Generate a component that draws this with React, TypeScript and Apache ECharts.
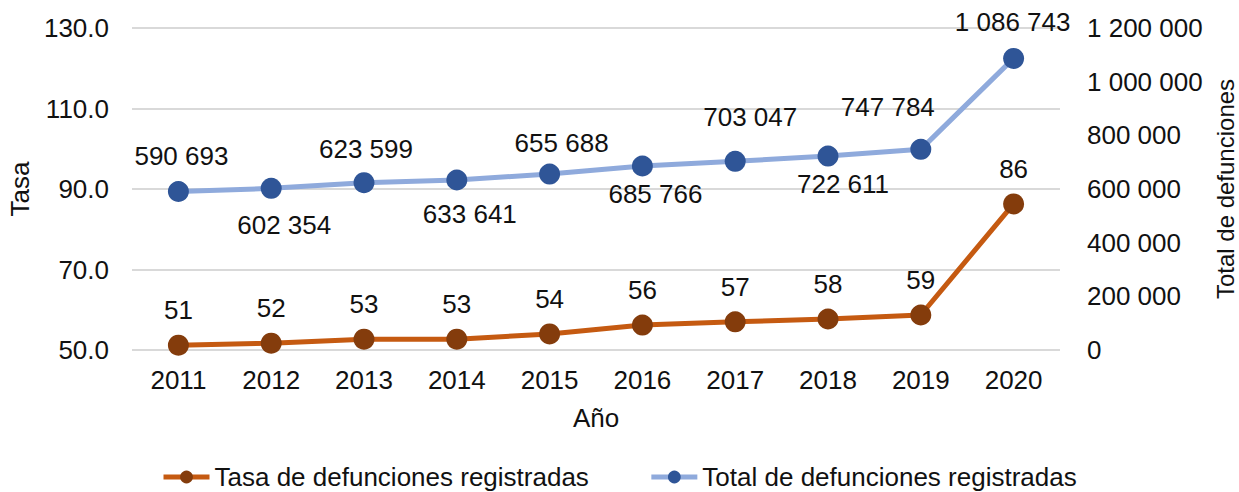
import React, { useEffect, useRef } from "react";
import * as echarts from "echarts";

const years = ["2011", "2012", "2013", "2014", "2015", "2016", "2017", "2018", "2019", "2020"];
const tasa = [51.2, 51.7, 52.7, 52.7, 54.0, 56.2, 57.0, 57.7, 58.7, 86.3];
const total = [590693, 602354, 623599, 633641, 655688, 685766, 703047, 722611, 747784, 1086743];

// label placement (layout only): offset of each total label's centre from its point
const totalLabelOffsets = [
  [3, -35], [13, 37], [2, -34], [13, 34], [12, -31],
  [13, 28], [15, -44], [15, 28], [-33, -42], [-1, -36],
];

const FONT = "Liberation Sans, Arial, sans-serif";
const TXT = "#111111";
const FS = 26;

const fmtThousands = (v: number) =>
  String(Math.round(v)).replace(/\B(?=(\d{3})+(?!\d))/g, " ");

export default function App() {
  const ref = useRef<HTMLDivElement>(null);
  useEffect(() => {
    if (!ref.current) return;
    const chart = echarts.init(ref.current, undefined, { renderer: "svg" });
    chart.setOption({
      animation: false,
      textStyle: { fontFamily: FONT, color: TXT },
      grid: { left: 132, right: 179, top: 28, bottom: 142, outerBoundsMode: "none", containLabel: false },
      legend: {
        left: 156,
        top: 459,
        itemWidth: 46,
        itemHeight: 16,
        itemGap: 60,
        lineStyle: { width: 5 },
        textStyle: { fontSize: FS, color: TXT, fontFamily: FONT },
        data: ["Tasa de defunciones registradas", "Total de defunciones registradas"],
      },
      xAxis: {
        type: "category",
        data: years,
        name: "Año",
        nameLocation: "middle",
        nameGap: 55,
        nameTextStyle: { fontSize: FS, color: TXT },
        axisLine: { show: false },
        axisTick: { show: false },
        axisLabel: { fontSize: FS, color: TXT, margin: 17 },
      },
      yAxis: [
        {
          type: "value",
          min: 50,
          max: 130,
          interval: 10,
          name: "Tasa",
          nameLocation: "middle",
          nameRotate: 90,
          nameGap: 94,
          nameTextStyle: { fontSize: FS, color: TXT },
          axisLine: { show: false },
          axisTick: { show: false },
          axisLabel: {
            fontSize: FS,
            color: TXT,
            margin: 23,
            formatter: (v: number) => ((v - 50) % 20 === 0 ? v.toFixed(1) : ""),
          },
          splitLine: {
            show: true,
            lineStyle: { color: ["#d9d9d9", "rgba(0,0,0,0)"], width: 2 },
          },
        },
        {
          type: "value",
          position: "right",
          min: 0,
          max: 1200000,
          interval: 200000,
          name: "Total de defunciones",
          nameLocation: "middle",
          nameRotate: 90,
          nameGap: 147,
          nameTextStyle: { fontSize: 24, color: TXT },
          axisLine: { show: false },
          axisTick: { show: false },
          splitLine: { show: false },
          axisLabel: {
            fontSize: FS,
            color: TXT,
            margin: 27,
            align: "left",
            formatter: (v: number) => fmtThousands(v),
          },
        },
      ],
      series: [
        {
          name: "Tasa de defunciones registradas",
          type: "line",
          yAxisIndex: 0,
          data: tasa,
          symbol: "circle",
          symbolSize: 21,
          lineStyle: { color: "#c55a11", width: 5 },
          itemStyle: { color: "#843c0c" },
          label: {
            show: true,
            position: "inside",
            offset: [0, -35],
            fontSize: FS,
            color: TXT,
            formatter: (p: any) => String(Math.round(p.value)),
          },
          z: 3,
        },
        {
          name: "Total de defunciones registradas",
          type: "line",
          yAxisIndex: 1,
          data: total.map((v, i) => ({
            value: v,
            label: { offset: totalLabelOffsets[i] },
          })),
          symbol: "circle",
          symbolSize: 21,
          lineStyle: { color: "#8faadc", width: 5 },
          itemStyle: { color: "#2f5597" },
          label: {
            show: true,
            position: "inside",
            fontSize: FS,
            color: TXT,
            formatter: (p: any) => fmtThousands(p.value),
          },
          z: 3,
        },
      ],
    });
    return () => chart.dispose();
  }, []);
  return <div ref={ref} style={{ width: 1239, height: 492, position: "absolute", left: 0, top: 0 }} />;
}
